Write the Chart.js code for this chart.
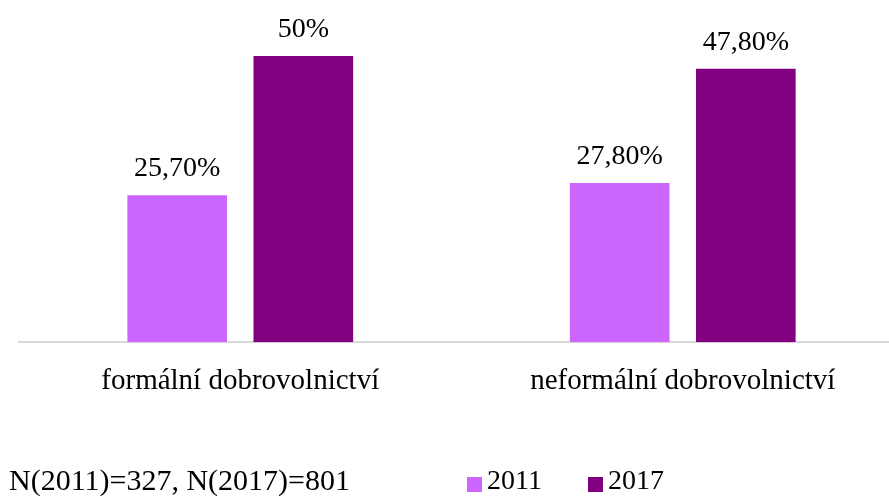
<!DOCTYPE html>
<html>
<head>
<meta charset="utf-8">
<script src="https://cdn.jsdelivr.net/npm/chart.js@4/dist/chart.umd.min.js"></script>
<style>
  html, body { margin: 0; padding: 0; background: #fff; overflow: hidden; }
  body { width: 889px; height: 496px; position: relative; font-family: 'Liberation Serif', 'Times New Roman', serif; }
  #wrap { position: absolute; left: 0; top: 0; width: 904px; height: 496px; }
  #note { position: absolute; left: 9px; top: 465px; font-size: 30px; line-height: 29px; white-space: nowrap; color: #000; }
  #legend { position: absolute; left: 467px; top: 466px; font-size: 28px; line-height: 28px; white-space: nowrap; color: #000; }
  .item { position: absolute; top: 0; }
  .swatch { position: absolute; top: 11px; width: 15px; height: 15px; }
  .txt { position: absolute; left: 20px; top: 0; }
</style>
</head>
<body>
<div id="wrap"><canvas id="chart"></canvas></div>
<div id="note"></div>
<div id="legend"></div>
<script>
const categories = ['formální dobrovolnictví', 'neformální dobrovolnictví'];
const years = ['2011', '2017'];
const values2011 = [25.7, 27.8];
const values2017 = [50, 47.8];
const colors = ['#CC66FF', '#800080'];
const noteText = 'N(2011)=327, N(2017)=801';

function pct(v) {
  return Number.isInteger(v) ? v + '%' : v.toFixed(2).replace('.', ',') + '%';
}

const valueLabels = {
  id: 'valueLabels',
  afterDatasetsDraw(chart) {
    const ctx = chart.ctx;
    ctx.save();
    ctx.font = "28px 'Liberation Serif'";
    ctx.fillStyle = '#000';
    ctx.textAlign = 'center';
    ctx.textBaseline = 'alphabetic';
    chart.data.datasets.forEach((ds, i) => {
      chart.getDatasetMeta(i).data.forEach((bar, j) => {
        ctx.fillText(pct(ds.data[j]), bar.x, bar.y - 19);
      });
    });
    ctx.restore();
  }
};

new Chart(document.getElementById('chart'), {
  type: 'bar',
  data: {
    labels: categories,
    datasets: [
      { label: years[0], data: values2011, backgroundColor: colors[0] },
      { label: years[1], data: values2017, backgroundColor: colors[1] }
    ]
  },
  options: {
    responsive: true,
    maintainAspectRatio: false,
    animation: false,
    categoryPercentage: 0.57,
    barPercentage: 0.79,
    layout: { padding: { left: 19, right: 0, top: 0, bottom: 75 } },
    plugins: { legend: { display: false }, tooltip: { enabled: false } },
    scales: {
      x: {
        grid: { display: false, drawTicks: false },
        border: { display: true, color: '#d9d9d9', width: 2 },
        ticks: { color: '#000', padding: 22, font: { family: 'Liberation Serif', size: 29 } }
      },
      y: { display: false, min: 0, max: 59.8 }
    }
  },
  plugins: [valueLabels]
});

document.getElementById('note').textContent = noteText;
document.getElementById('legend').innerHTML = years.map((y, i) =>
  `<div class="item" style="left:${i * 121}px"><span class="swatch" style="background:${colors[i]}"></span><span class="txt">${y}</span></div>`
).join('');
</script>
</body>
</html>
